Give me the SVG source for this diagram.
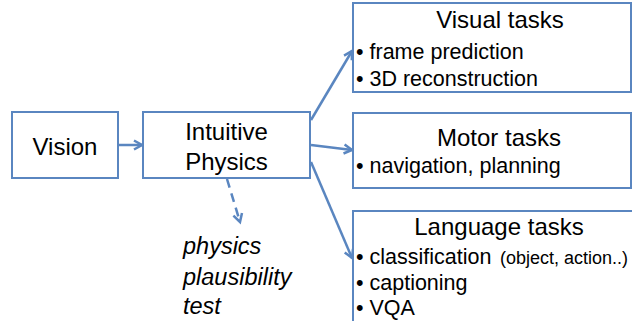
<svg xmlns="http://www.w3.org/2000/svg" width="632" height="321" viewBox="0 0 632 321">
<style>
.box{fill:#fff;stroke:#5a86c0;stroke-width:2}
.t{font-family:"Liberation Sans",Arial,sans-serif;fill:#000}
.n{font-size:24px;text-anchor:middle}
.b{font-size:21.5px}
.i{font-size:23.5px;font-style:italic}
.c{stroke:#5a86c0;stroke-width:2.5;fill:none}
</style>
<defs>
<marker id="ah" markerWidth="12" markerHeight="12" refX="9" refY="6" orient="auto" markerUnits="userSpaceOnUse">
<path d="M1,1.5 L9,6 L1,10.5" fill="none" stroke="#5a86c0" stroke-width="2.5"/>
</marker>
</defs>
<rect width="632" height="321" fill="#fff"/>
<g id="connectors">
<line class="c" x1="118" y1="145" x2="142" y2="145" marker-end="url(#ah)"/>
<line class="c" x1="311" y1="120" x2="352" y2="51" marker-end="url(#ah)"/>
<line class="c" x1="311" y1="145" x2="352" y2="150" marker-end="url(#ah)"/>
<line class="c" x1="311" y1="162" x2="352" y2="258" marker-end="url(#ah)"/>
<line class="c" x1="227" y1="179" x2="240" y2="222" stroke-dasharray="9,6" marker-end="url(#ah)"/>
</g>
<g id="vision">
<rect class="box" x="12" y="112" width="106" height="66"/>
<text class="t n" x="65" y="155">Vision</text>
</g>
<g id="intuitive-physics">
<rect class="box" x="143" y="112" width="167" height="66"/>
<text class="t n" x="226.5" y="140">Intuitive</text>
<text class="t n" x="226.5" y="170">Physics</text>
</g>
<g id="visual-tasks">
<rect class="box" x="353" y="3" width="278" height="89"/>
<text class="t n" x="500" y="28">Visual tasks</text>
<text class="t b" x="356" y="59">• frame prediction</text>
<text class="t b" x="356" y="86">• 3D reconstruction</text>
</g>
<g id="motor-tasks">
<rect class="box" x="353" y="113" width="278" height="75"/>
<text class="t n" x="499" y="146">Motor tasks</text>
<text class="t b" x="356" y="173">• navigation, planning</text>
</g>
<g id="language-tasks">
<rect class="box" x="353" y="211" width="282" height="115"/>
<text class="t n" x="499" y="235">Language tasks</text>
<text class="t b" x="356" y="264">• classification</text>
<text class="t" x="500" y="264" font-size="18">(object, action..)</text>
<text class="t b" x="356" y="290">• captioning</text>
<text class="t b" x="356" y="315">• VQA</text>
</g>
<g id="physics-plausibility-test">
<text class="t i" x="183" y="254">physics</text>
<text class="t i" x="183" y="285">plausibility</text>
<text class="t i" x="183" y="314">test</text>
</g>
</svg>
